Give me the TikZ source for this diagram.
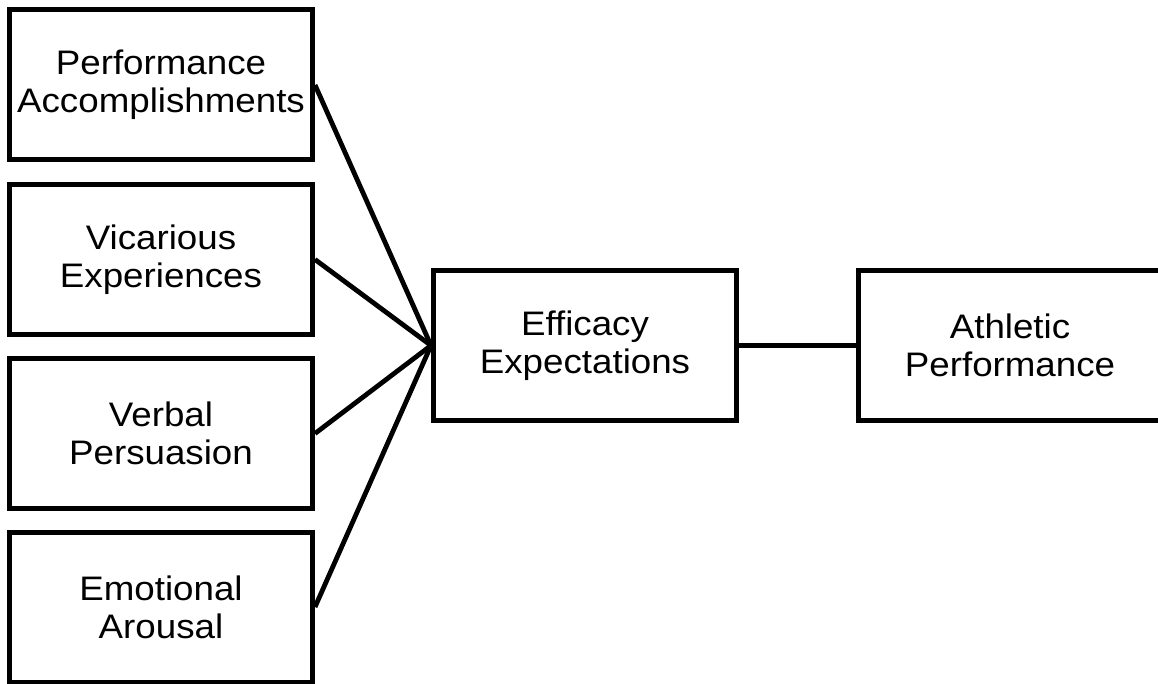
\documentclass[tikz,border=0pt]{standalone}
\usepackage{fontspec}
\setmainfont{Liberation Sans}[FakeStretch=1.08]
\tikzset{
  factor/.style={draw, line width=5pt, minimum width=303pt, minimum height=150pt,
    inner sep=0pt, align=center, font=\fontsize{34}{38}\selectfont},
  link/.style={line width=4.8pt}
}
\begin{document}
\begin{tikzpicture}[x=1pt, y=-1pt]
      \useasboundingbox (0,0) rectangle (1158,684);
      \draw
        (161,85) node[factor] (pa){Performance\\Accomplishments}
        (161,259.5) node[factor] (ve){Vicarious\\Experiences}
        (161,433.5) node[factor] (vp){Verbal\\Persuasion}
        (161,607) node[factor] (ea){Emotional\\Arousal}
        (585,345.5) node[factor] (ee){Efficacy\\Expectations}
        (1010,345.5) node[factor] (ap){Athletic\\Performance};
      \begin{scope}[link]
        \draw (pa.east) to (ee.west);
        \draw (ve.east) to (ee.west);
        \draw (vp.east) to (ee.west);
        \draw (ea.east) to (ee.west);
        \draw (ee.east) to (ap.west);
      \end{scope}
    \end{tikzpicture}
\end{document}
